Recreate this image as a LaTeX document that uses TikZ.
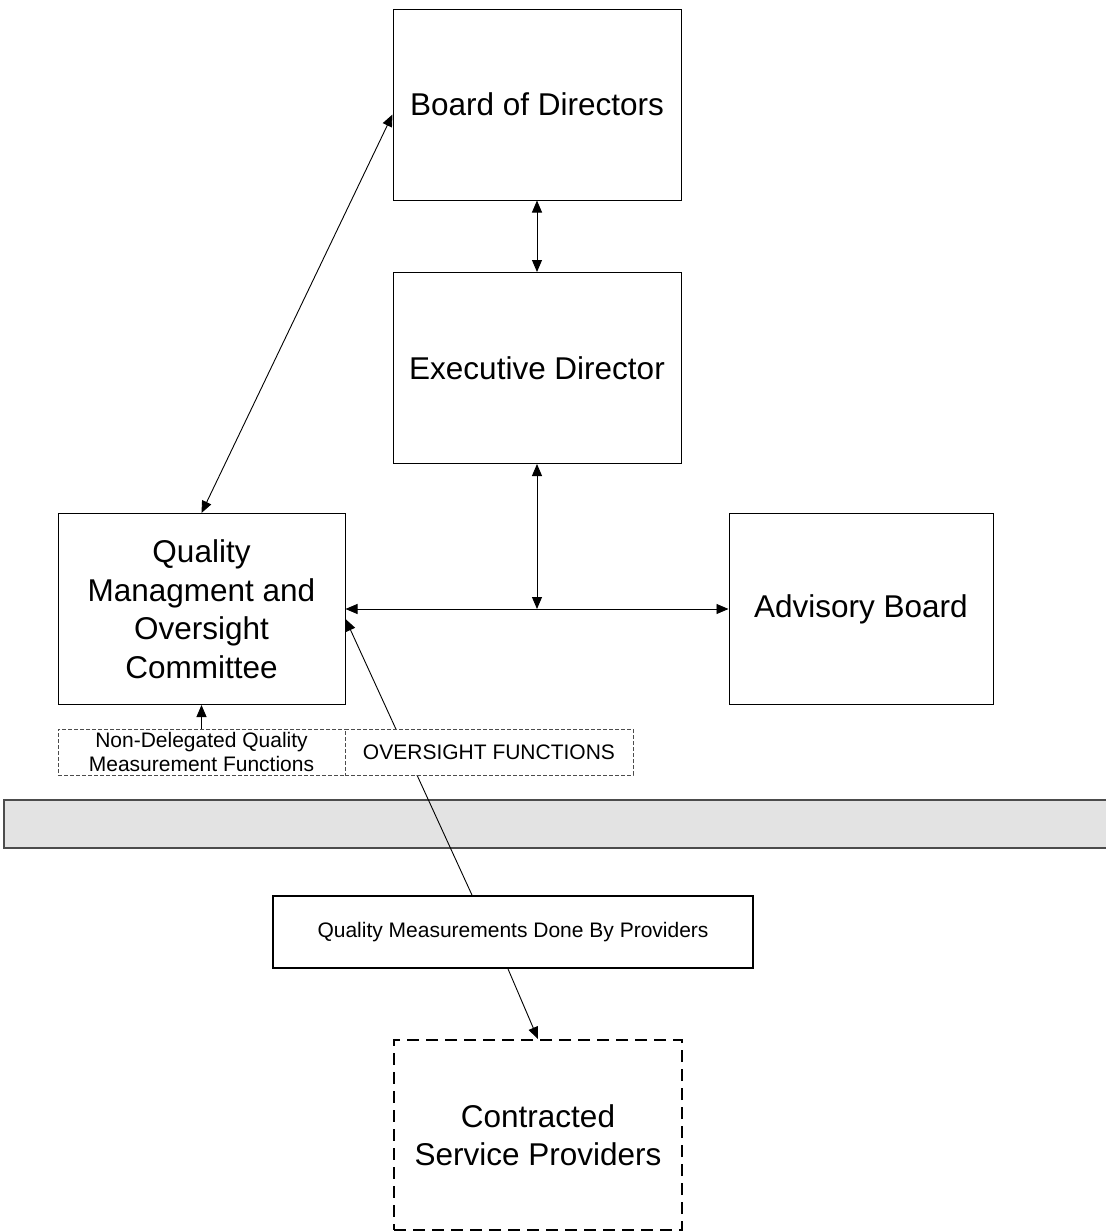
\documentclass[tikz,border=0pt]{standalone}
\usepackage{fontspec}
\setmainfont{Liberation Sans}
\usetikzlibrary{arrows.meta,calc}
\begin{document}
\begin{tikzpicture}[x=1pt,y=-1pt,
  bigbox/.style={draw=black,line width=1pt,minimum width=288pt,minimum height=191pt,inner sep=0pt,align=center,font=\fontsize{31.5}{38.5}\selectfont},
  smallbox/.style={draw=black!70,fill=white,dashed,dash pattern=on 4pt off 2pt,line width=0.8pt,minimum width=288pt,minimum height=46pt,inner sep=0pt,align=center,font=\fontsize{21}{24}\selectfont},
  conn/.style={line width=0.9pt,{Triangle[length=12pt,width=10pt]}-{Triangle[length=12pt,width=10pt]}},
  oneway/.style={line width=0.9pt,-{Triangle[length=12pt,width=10pt]}}]
\useasboundingbox (0,0) rectangle (1106,1232);
\begin{scope}
\clip (0,0) rectangle (1106,1232);
\node[draw=black!70,fill=black!11,line width=1.5pt,minimum width=1120pt,minimum height=48pt,inner sep=0pt] (bar) at (564,824) {};
\end{scope}
\node[bigbox] (bod) at (537,104.5) {Board of Directors};
\node[bigbox] (ed) at (537,368) {Executive Director};
\node[bigbox,minimum width=287pt] (q) at (201.5,609) {Quality\\Managment and\\Oversight\\Committee};
\node[bigbox,minimum width=264pt] (ab) at (861,609) {Advisory Board};
\node[draw=black,line width=1.8pt,minimum width=480pt,minimum height=72pt,inner sep=0pt,font=\fontsize{21}{24}\selectfont] (qm) at (513,932) {Quality Measurements Done By Providers};
\node[bigbox,line width=2pt,dash pattern=on 12pt off 7pt,minimum height=190pt] (cp) at (538,1135) {Contracted\\Service Providers};
\draw[oneway] ($(qm.north)+(-41,0)$) -- ($(q.east)+(0,10)$);
\node[smallbox,minimum width=287pt] (nd) at (201.5,752) {Non-Delegated Quality\\Measurement Functions};
\node[smallbox] (of) at (489,752) {OVERSIGHT FUNCTIONS};
\coordinate (junc) at (ed.south |- q.east);
\draw[conn] (bod.south) -- (ed.north);
\draw[conn] ($(bod.west)+(0,10)$) -- (q.north);
\draw[conn] (q.east) -- (ab.west);
\draw[conn] (ed.south) -- (junc);
\draw[oneway] (nd.north) -- (q.south);
\draw[oneway] ($(qm.south)+(-5,0)$) -- (cp.north);
\end{tikzpicture}
\end{document}
